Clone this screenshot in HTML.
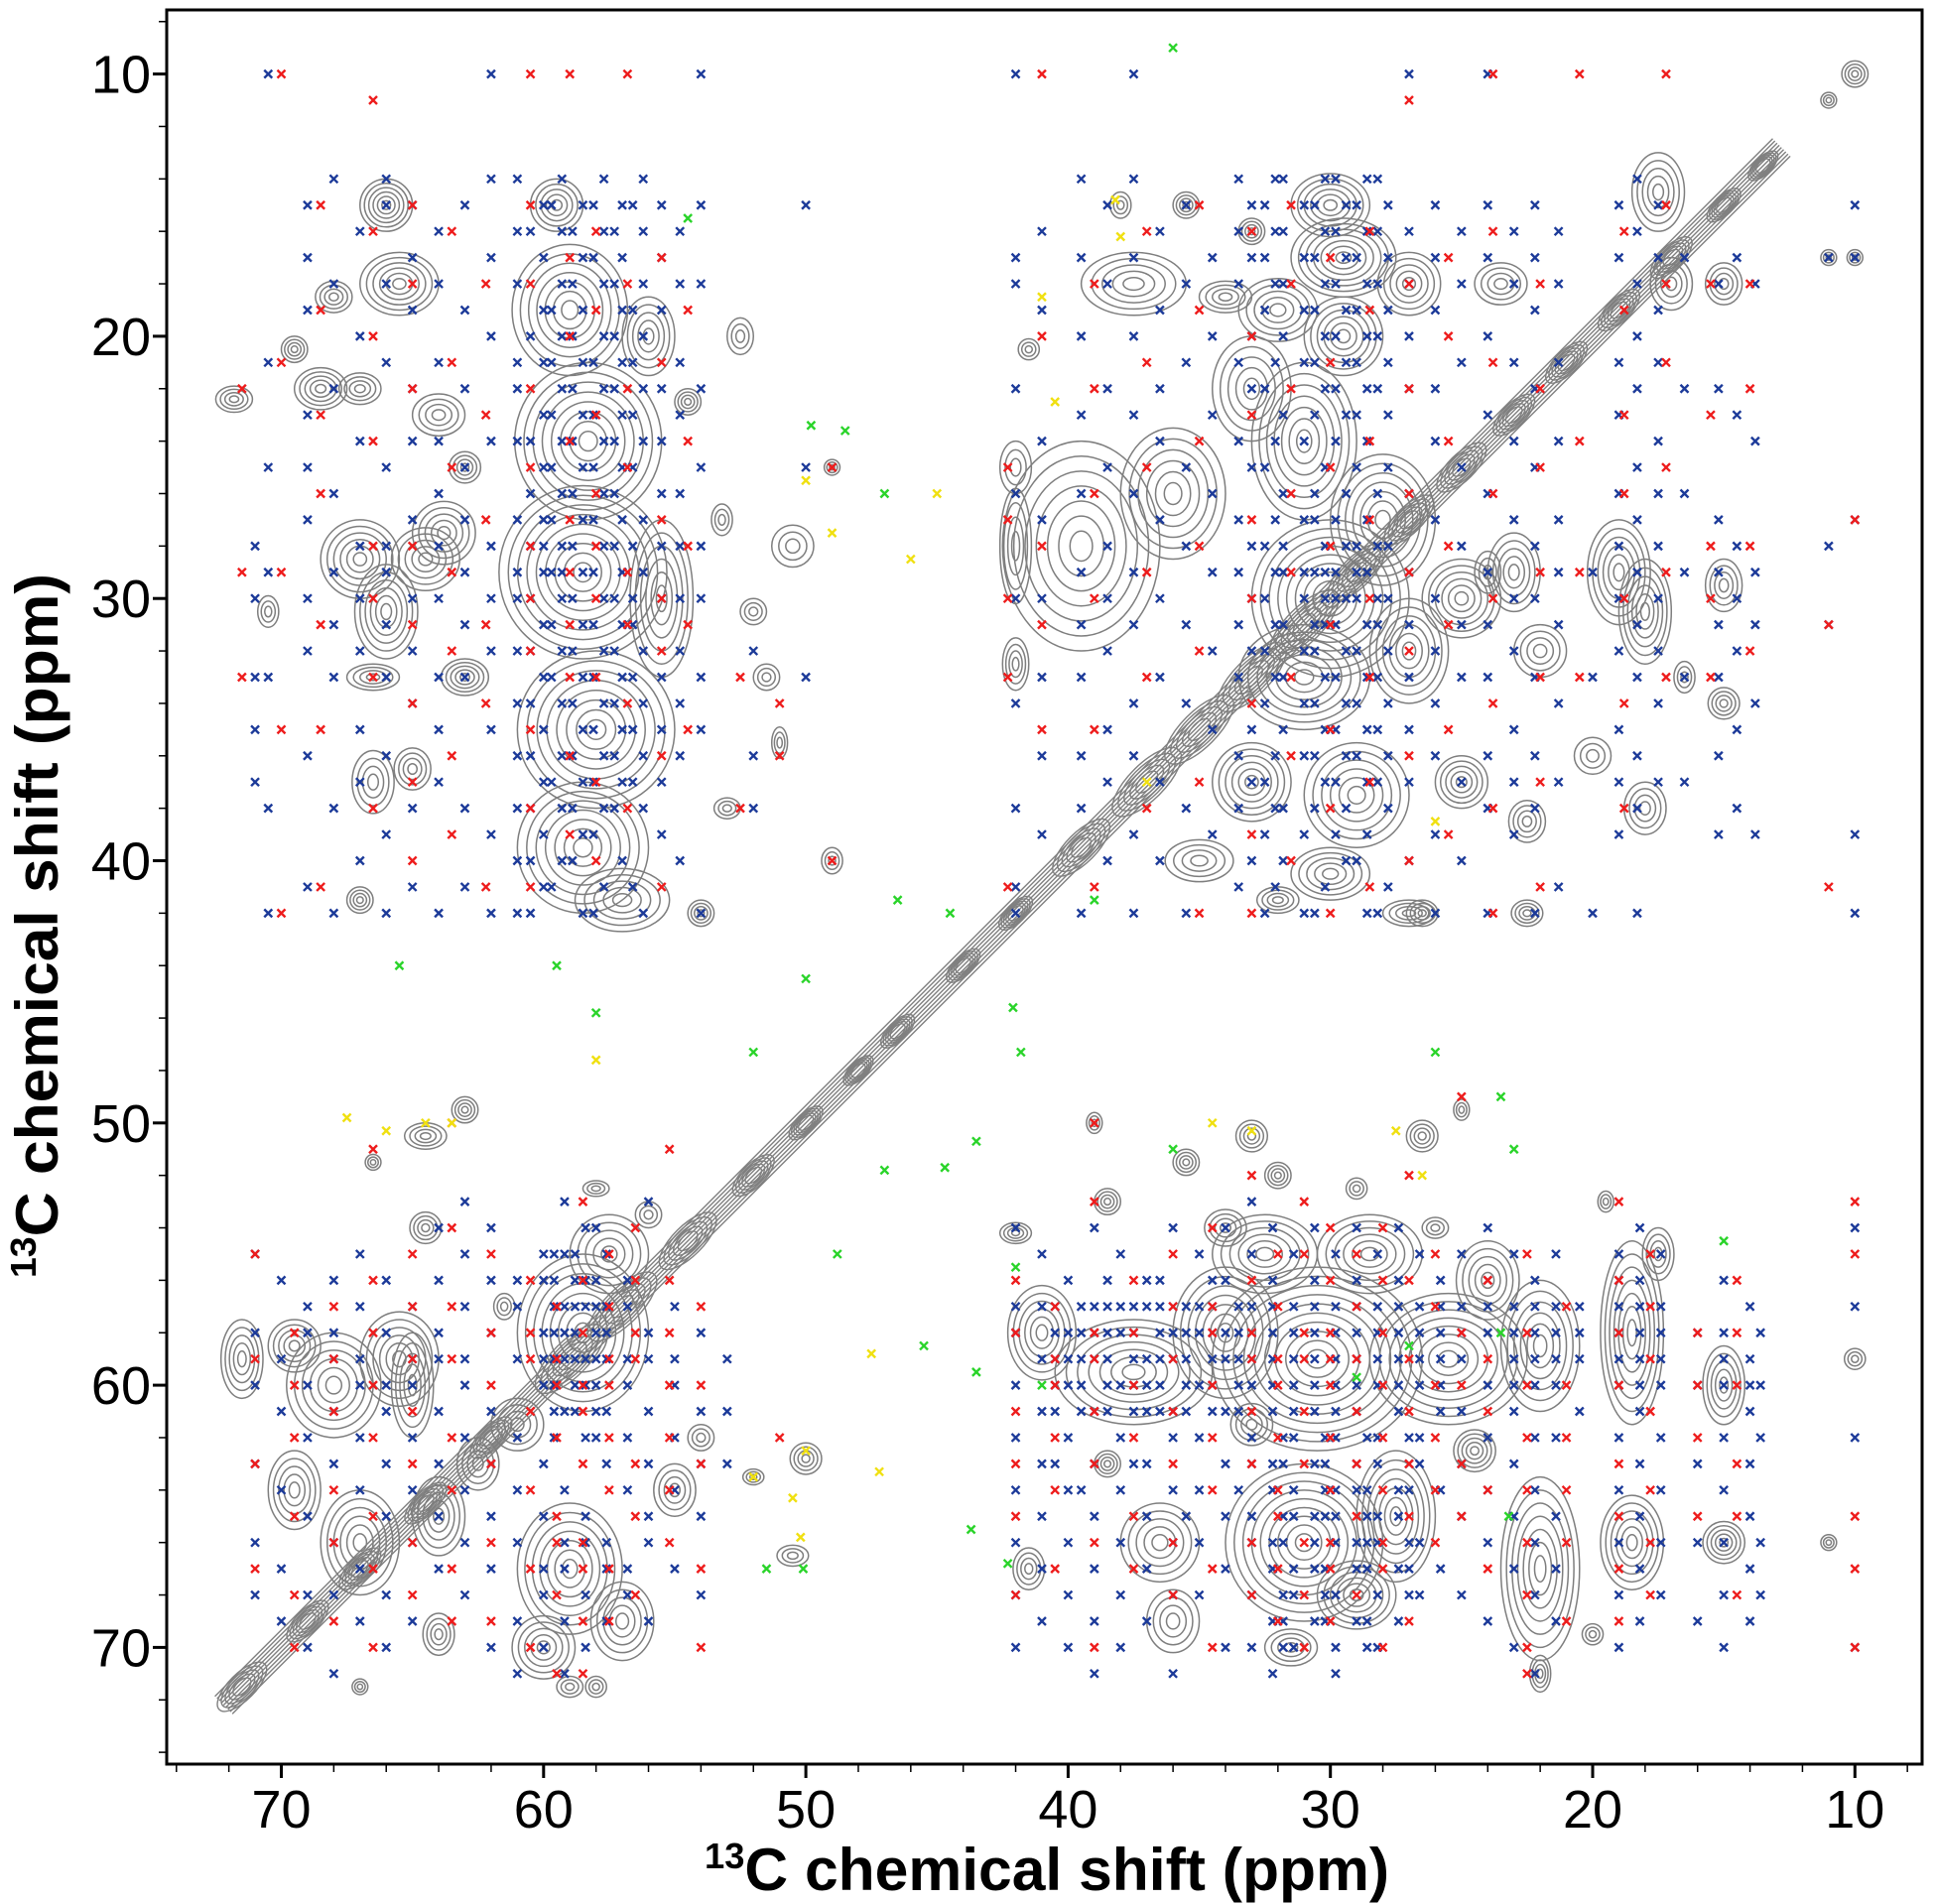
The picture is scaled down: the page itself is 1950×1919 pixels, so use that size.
<!DOCTYPE html>
<html><head><meta charset="utf-8"><style>
html,body{margin:0;padding:0;background:#fff;}
svg{display:block;font-family:"Liberation Sans",sans-serif;}
</style></head><body>
<svg id="chart" width="1950" height="1919" viewBox="0 0 1950 1919" xmlns="http://www.w3.org/2000/svg">
<g id="contours"></g>
<g id="markers"></g>
<g id="axes"></g>
</svg>
<script>
const xTicks=[70,60,50,40,30,20,10];
const yTicks=[10,20,30,40,50,60,70];
const diagX=[71.5,69,67,64.5,62,59,57,54.5,52,50,48,46.5,44,42,39.5,37,35,33,31,29,27,25,23,21,19,17,15,13.5];
const diagW=[1,0.8,0.8,0.8,0.8,1.5,1.5,1.2,0.8,0.6,0.5,0.6,0.6,0.6,1.2,1.5,1.5,1.5,1.5,1.2,1,1,0.8,0.8,0.8,0.8,0.6,0.5];
const blobs=[[71.8,22.4,0.7,0.5,4],[69.5,20.5,0.5,0.5,4],[68.5,22,1,0.8,5],[67,22,0.8,0.6,4],[66,15,1,1,6],[65.5,18,1.5,1.2,6],[68,18.5,0.7,0.6,4],[67,28.5,1.5,1.5,6],[66,30.5,1.2,1.8,6],[64.5,28.5,1.3,1.2,5],[63.8,27.5,1.2,1.2,5],[63,33,0.9,0.7,5],[66.5,33,1,0.5,4],[70.5,30.5,0.4,0.6,3],[66.5,37,0.8,1.2,4],[65,36.5,0.7,0.8,4],[67,41.5,0.5,0.5,4],[64,23,1,0.8,4],[63,25,0.6,0.6,4],
[59,19,2.2,2.5,7],[58.3,24,2.8,3,8],[58.5,29,3.2,3.3,9],[58,35,3,3,8],[58.5,39.5,2.5,2.5,7],[57,41.5,1.8,1.2,5],[55.5,30,1.2,3,6],[56,20,1,1.5,5],[54.5,22.5,0.5,0.5,4],[53.2,27,0.4,0.6,3],[52,30.5,0.5,0.5,3],[51.5,33,0.5,0.5,3],[51,35.5,0.3,0.6,3],[53,38,0.5,0.4,3],[54,42,0.5,0.5,4],[49,25,0.3,0.3,3],[50.5,28,0.8,0.8,3],[49,40,0.4,0.5,3],[52.5,20,0.5,0.7,3],[59.5,15,1,1,5],
[37.5,18,2,1.2,5],[34,18.5,1,0.6,4],[32,19,1.5,1.2,5],[29.5,17,2,1.5,7],[30,15,1.5,1.2,6],[29.5,20,1.5,1.5,6],[27,18,1.2,1.2,5],[23.5,18,1,0.8,4],[17.5,14.5,1,1.5,5],[17,18,0.8,1,4],[15,18,0.7,0.8,4],[11,17,0.3,0.3,3],[10,17,0.3,0.3,3],[10,10,0.5,0.5,4],[11,11,0.3,0.3,3],[35.5,15,0.5,0.5,4],[33,16,0.5,0.5,4],[38,15,0.4,0.5,3],
[39.5,28,3,4,7],[36,26,2,2.5,6],[33,22,1.5,2,5],[31,24,2,3,7],[30,30,3,3,9],[28,27,2,2.5,7],[31,33,2.5,2,7],[27,32,1.5,2,6],[25,30,1.5,1.5,6],[23,29,1,1.5,5],[22,32,1,1,4],[33,37,1.5,1.5,6],[29,37.5,2,2,6],[25,37,1,1,5],[30,40.5,1.5,1,5],[27,42,1,0.5,4],[32,41.5,0.8,0.5,4],[35,40,1.3,0.8,4],[22.5,38.5,0.7,0.8,4],[20,36,0.7,0.7,3],[18,38,0.8,1,4],[19,29,1.2,2,6],[18,30.5,1,2,6],[15,29.5,0.7,1,4],[15,34,0.6,0.6,4],[16.5,33,0.4,0.6,3],[42,28,0.6,2.2,4],[42,32.5,0.5,1,4],[41.5,20.5,0.4,0.4,3],[26.5,42,0.6,0.5,4],[22.5,42,0.6,0.5,4],[24,29,0.5,0.8,3],[42,25,0.6,1,3],
[71.5,59,0.8,1.5,5],[69.5,58.5,1,1,5],[68,60,1.8,2,6],[65.5,59,1.5,1.8,6],[69.5,64,1,1.5,5],[67,66,1.5,2,6],[64,65,1,1.5,5],[62.5,63,0.8,1,4],[58.5,58,2.5,3,8],[57.5,55,1.5,1.5,5],[59,67,2,2.5,7],[60,70,1.2,1.2,5],[57,69,1.2,1.5,5],[59,71.5,0.5,0.4,3],[58,71.5,0.4,0.4,3],[64,69.5,0.6,0.8,4],[67,71.5,0.3,0.3,3],[55,64,0.8,1,4],[54,62,0.5,0.5,3],[63,49.5,0.5,0.5,4],[64.5,50.5,0.8,0.5,4],[66.5,51.5,0.3,0.3,3],[64.5,54,0.6,0.6,4],[61.5,57,0.4,0.5,3],[58,52.5,0.5,0.3,3],[56,53.5,0.5,0.5,3],[50,62.8,0.6,0.6,4],[50.5,66.5,0.6,0.4,3],[52,63.5,0.4,0.3,3],[65,60,0.8,2,5],[61,61.5,1,1,4],
[42,54.2,0.6,0.4,4],[41,58,1.3,1.8,6],[37.5,59.5,3,2,7],[34,58,2,2.5,7],[30.5,59,4,3.5,10],[25.5,59,3,2.5,8],[22,58.5,1.5,2.5,6],[18.5,58,1.2,3.5,7],[15,60,0.8,1.5,5],[32.5,55,2,1.5,6],[28.5,55,2,1.5,6],[24,56,1.2,1.5,5],[31,66,3,3,9],[27.5,65,1.5,2.5,7],[24.5,62.5,0.8,0.8,5],[22,67,1.5,3.5,7],[18.5,66,1.2,1.8,6],[15,66,0.8,0.8,5],[36.5,66,1.5,1.5,5],[41.5,67,0.6,0.8,4],[38.5,63,0.5,0.5,4],[33,61.5,0.8,0.8,4],[29,68,1.5,1.3,6],[31.5,70,1,0.7,4],[36,69,1,1.2,4],[39,50,0.3,0.4,3],[35.5,51.5,0.5,0.5,4],[33,50.5,0.6,0.6,4],[32,52,0.5,0.5,4],[29,52.5,0.4,0.4,3],[26.5,50.5,0.6,0.6,4],[25,49.5,0.3,0.4,3],[38.5,53,0.5,0.5,4],[34,54,0.8,0.7,4],[19.5,53,0.3,0.4,3],[17.5,55,0.6,1,4],[22,71,0.4,0.7,4],[10,59,0.4,0.4,3],[11,66,0.3,0.3,3],[20,69.5,0.4,0.4,3],[26,54,0.5,0.4,3]];
const blueCols=[[71,[28,30,33,35,37]],[70.5,[10,21,25,29,33,38,42]],[69,[15,17,19,23,25,27,30,32,36,41]],[68,[14,18,22,26,29,31,33,38,42]],[67,[16,20,24,28,30,32,35,37,40]],[66,[14,15,18,21,25,28,29,31,33,36,39,42]],[65,[15,17,19,22,24,27,30,32,34,38,41]],[64,[16,18,21,24,26,28,30,33,35,37,42]],[63,[15,19,22,25,27,29,31,33,38,41]],[62,[10,14,17,20,24,28,30,32,35,39,42]],[61,[14,16,18,21,22,24,27,29,30,32,34,36,38,40,42]],[60,[15,17,19,21,23,25,27,28,29,31,33,35,37,39,41]],[59.3,[14,16,18,20,22,24,26,28,29,30,32,34,36,38,40]],[58.5,[15,17,19,21,23,25,27,29,31,33,35,37,39,42]],[57.7,[14,16,18,20,22,24,26,28,30,32,34,36,38,41]],[57,[15,17,19,21,23,25,27,29,31,33,35,37,40]],[56.2,[14,16,18,20,22,24,27,29,32,34,36,38,42]],[55.5,[15,17,19,22,24,26,28,30,33,35,37,39]],[54.8,[16,18,21,23,26,28,30,32,34,36,40]],[54,[10,15,18,22,25,28,30,33,35,42]],[52,[32,36,38]],[50,[15,25,33]],
[42,[10,17,18,22,26,30,34,38,41,42]],[41,[16,19,24,27,30,33,36,39]],[39.5,[14,17,20,23,26,29,31,33,36,38,42]],[38.5,[15,18,22,25,28,30,32,35,37,40]],[37.5,[10,14,17,20,23,26,29,31,34,36,39,42]],[36.5,[16,19,22,24,27,30,33,37,40]],[35.5,[15,18,21,25,28,31,34,38,42]],[34.5,[17,20,23,26,29,32,35,39]],[33.5,[14,16,18,21,24,27,29,31,33,36,38,41]],[32.5,[15,17,19,22,25,28,30,32,34,37,39,42]],[31.8,[14,16,18,20,23,26,28,29,31,33,35,38,40]],[31,[15,17,19,21,24,27,29,30,32,34,36,39,42]],[30.2,[14,16,18,20,22,25,28,29,30,31,33,35,37,41]],[29.4,[15,17,19,21,23,26,28,30,32,34,36,38,40]],[28.6,[14,16,18,20,22,24,27,29,31,33,35,37,39,42]],[27.8,[15,17,19,21,23,25,28,30,32,34,36,38,41]],[27,[10,16,18,20,22,26,29,31,33,35,37,40]],[26,[15,17,19,22,24,27,30,32,34,36,39,42]],[25,[16,18,21,25,28,31,33,37,40]],[24,[10,15,17,20,23,26,29,31,33,36,38,42]],[23,[16,18,21,24,27,30,32,35,37,39]],[22.2,[15,17,19,22,25,28,30,33,36,38,42]],[21.3,[16,18,21,24,27,29,31,34,37,41]],[20,[29,33,42]],[19,[15,17,21,23,26,28,30,32,35,37,39]],[18.3,[14,16,18,20,22,25,27,29,31,33,36,38,42]],[17.5,[15,17,19,21,24,26,28,30,32,34,37]],[16.5,[17,22,26,29,33,37]],[15.2,[18,22,27,29,31,33,36,39]],[14.5,[17,23,28,30,32,35,38]],[13.8,[18,24,29,31,34,39]],[11,[17,28,31]],[10,[15,17,27,39,42]],
[71,[55,58,60,63,66,68]],[70,[56,59,61,64,67,69]],[69,[57,58,60,62,65,68,70]],[68,[56,58,59,61,63,66,68,71]],[67,[55,57,59,60,62,64,67,69]],[66,[56,58,60,61,63,65,68,70]],[65,[57,59,60,62,64,66,69]],[64,[54,56,58,59,61,63,65,67]],[63,[53,55,57,59,60,62,64,66,68]],[62,[54,56,58,61,63,65,67,70]],[61,[56,57,59,62,64,66,69,71]],[60,[55,56,58,59,60,63,65,67,68,70]],[59.2,[53,55,57,58,59,61,64,66,67,69,71]],[58.4,[54,56,57,59,60,62,65,66,68,70]],[57.6,[55,57,58,59,61,63,66,67,69]],[56.8,[56,57,59,60,62,64,67,68]],[56,[53,58,59,61,63,65,66,69]],[55,[57,59,60,62,64,67]],[54,[58,61,63,65,68]],[53,[59,61,63]],
[42,[54,57,58,60,62,64,66,68,70]],[41,[55,57,59,61,63,65,67,69]],[40,[56,58,59,60,62,64,66,68,70]],[39,[54,57,58,59,61,63,65,67,69,71]],[38,[55,57,58,60,62,64,66,68,70]],[37,[56,57,59,60,61,63,65,67,69]],[36,[54,57,58,59,61,62,64,66,68,71]],[35,[55,57,58,60,62,64,66,68]],[34,[54,56,58,59,61,63,65,67,70]],[33,[53,55,57,58,59,60,62,63,65,66,68,70]],[32.2,[54,56,57,58,59,60,61,63,64,66,67,69,71]],[31.4,[55,57,58,59,60,61,62,64,65,67,68,70]],[30.6,[54,56,57,58,59,60,61,63,65,66,67,69]],[29.8,[55,57,58,59,60,61,62,64,65,66,68,70,71]],[29,[54,56,57,58,59,60,61,63,64,66,67,69]],[28.2,[55,57,58,59,60,62,63,65,66,68,70]],[27.4,[54,56,57,58,59,60,61,64,65,67,69]],[26.6,[55,57,58,59,60,62,63,66,68]],[25.8,[56,57,58,59,60,61,64,67]],[25,[55,57,58,59,61,63,65,68]],[24,[54,56,57,58,60,62,64,66,69]],[23,[55,57,58,59,60,61,63,65,67,70]],[22.2,[56,57,58,59,60,62,64,66,68,71]],[21.4,[55,57,58,59,60,62,65,67,69]],[20.5,[57,58,59,61]],[19,[55,56,57,58,59,60,62,64,66,68,70]],[18.2,[54,56,57,58,59,60,61,63,65,67,69]],[17.4,[55,57,58,59,60,62,64,66,68]],[16,[58,60,63,66,69]],[15,[56,58,59,60,62,64,66,68,70]],[14,[57,59,60,61,63,65,67,69]],[13.6,[58,60,62,66,68]],[10,[54,57,62,70]]];
const blueCols2=[[60.5,[16,20,24,26,28,30,32,34,36,38,40,42]],[59.7,[15,19,21,23,25,27,29,31,33,37,41]],[58.9,[16,18,20,22,24,26,28,30,32,34,36,38,40]],[58.1,[15,17,21,23,25,27,29,31,33,35,37,39,42]],[57.3,[16,18,20,22,24,26,28,30,32,34,36,38]],[56.6,[15,19,21,23,25,28,30,31,33,35,37,41]],
[33,[15,17,20,22,25,28,30,32,35,37,40]],[32.1,[14,16,18,21,24,27,29,31,33,36,38,41]],[30.6,[15,17,19,21,23,26,27,29,31,32,34,36,38,42]],[29.8,[14,16,18,20,22,24,27,29,30,31,33,35,37,39]],[29,[15,17,19,21,23,25,28,29,30,32,34,36,40]],[28.2,[14,16,18,20,22,26,28,30,31,33,35,37,42]],
[40.5,[57,58,59,60,61,63]],[39.5,[57,58,59,60,61,64]],[38.5,[56,57,58,59,60,61]],[37.5,[57,58,59,60,61,63]],[36.5,[56,57,58,59,60,61]],[35.5,[57,58,59,60,61,65]],[34.5,[56,57,58,59,60,61]],[33.5,[57,58,59,60,61,64]],
[31.8,[62,63,65,66,68,69,70]],[30.2,[62,63,64,65,67,68,69]],[28.6,[62,64,65,66,67,69,70]],[27,[62,63,64,66,67,68]],
[59.6,[55,56,57,58,59,60,61,62]],[58.8,[55,56,57,58,59,60,61]],[58,[54,56,57,58,59,60,61,62]]];
const redCols=[[71.5,[22,29,33]],[70,[10,21,29,35,42]],[68.5,[15,19,23,26,31,35,41]],[66.5,[11,16,20,24,28,30,33,38]],[65,[15,18,22,28,31,34,37,40]],[63.5,[16,21,25,29,32,36,39]],[62.2,[18,23,27,31,34,41]],[60.5,[10,15,18,22,25,28,30,32,35,38,41]],[59,[10,17,20,24,27,29,31,33,36,39]],[58,[16,19,23,26,28,30,33,37,40]],[56.8,[10,18,22,25,29,31,34,38]],[55.5,[17,21,27,30,32,36,41]],[54.5,[19,24,28,31,35]],[52.5,[33,38]],[51,[34,36]],[49,[25,40]],
[42.3,[25,27,30,33,41]],[41,[10,20,28,31,35]],[39,[18,22,26,30,35,41]],[37,[16,21,25,29,33,38]],[35,[15,19,24,28,32,37,42]],[33,[16,20,23,27,30,34,39,42]],[31.5,[15,18,22,26,29,33,36,40]],[30,[17,21,25,28,31,35,38,42]],[28.5,[16,19,24,27,30,33,37,41]],[27,[11,18,22,26,29,32,36,40]],[25.5,[17,20,24,28,31,35,39]],[23.8,[10,16,21,26,30,34,38,42]],[22,[18,22,25,29,33,37,41]],[20.5,[10,24,29,33]],[18.8,[16,19,23,26,30,34,38]],[17.2,[10,15,18,21,25,29,33]],[15.5,[18,23,28,30,33]],[14,[18,22,28,32]],[10,[27]],[11,[31,41]],
[71,[55,59,63,67]],[69.5,[58,60,62,65,68,70]],[68,[57,59,61,64,66,69]],[66.5,[51,56,58,60,62,65,67,70]],[65,[55,57,59,61,63,66,68]],[63.5,[50,54,57,59,62,64,67,69]],[62,[55,58,60,63,66,69]],[60.5,[56,58,59,61,64,67,70]],[59.5,[57,59,60,62,65,66,68,71]],[58.5,[53,56,58,60,61,63,66,67,69,71]],[57.5,[55,57,59,60,62,64,67,69]],[56.5,[54,56,58,59,63,65,68]],[55.2,[51,56,58,60,62,64,66]],[54,[57,60,63,67,70]],[51,[62]],
[42,[56,58,61,63,65,68]],[40.5,[57,59,60,62,64,67]],[39,[50,53,58,59,61,63,66,70]],[37.5,[56,58,60,62,65,67]],[36,[55,57,59,61,63,66,68]],[34.5,[54,57,58,60,62,64,67,70]],[33,[52,56,58,59,61,63,66,68]],[32,[55,57,59,60,62,64,65,67,69]],[31,[53,55,58,59,61,63,66,68,70]],[30,[54,56,58,59,60,62,64,66,67,69]],[29,[55,57,59,61,63,65,68]],[28,[54,56,58,60,62,64,66,67,70]],[27,[52,56,59,61,63,65,69]],[26,[55,57,60,62,64,66]],[25,[49,58,60,63,65]],[24,[56,59,61,64,67]],[22.5,[55,58,60,62,64,66,68,70,71]],[21,[57,60,62,64,66,69]],[19,[53,56,58,60,63,65,67,69]],[17.8,[55,57,59,61,64,66,68]],[16,[58,60,62,65]],[14.5,[56,58,60,63,65,68]],[10,[53,55,65,67,70]]];
const greenPts=[[36,9],[54.5,15.5],[49.8,23.4],[48.5,23.6],[47,26],[44.5,42],[46.5,41.5],[39,41.5],[65.5,44],[59.5,44],[58,45.8],[52,47.3],[50,44.5],[42.1,45.6],[41.8,47.3],[26,47.3],[43.5,50.7],[44.7,51.7],[47,51.8],[48.8,55],[36,51],[23.5,49],[23,51],[42,55.5],[15,54.5],[45.5,58.5],[43.5,59.5],[29,59.7],[27,58.5],[23.5,58],[41,60],[23.2,65],[43.7,65.5],[42.3,66.8],[51.5,67],[50.1,67]];
const yellowPts=[[38.2,14.8],[38,16.2],[41,18.5],[40.5,22.5],[50,25.5],[49,27.5],[45,26],[46,28.5],[37,37],[26,38.5],[34.5,50],[33,50.3],[27.5,50.3],[26.5,52],[64.5,50],[63.5,50],[67.5,49.8],[66,50.3],[50,62.5],[50.5,64.3],[52,63.5],[50.2,65.8],[47.2,63.3],[47.5,58.8],[58,47.6]];

const NS="http://www.w3.org/2000/svg";
const L=168,R=1937,T=10,B=1778,S=26.43;
const px=v=>283.5+(70-v)*S, py=v=>74.6+(v-10)*S;
function mk(tag,attrs,parent){const e=document.createElementNS(NS,tag);for(const k in attrs)e.setAttribute(k,attrs[k]);parent.appendChild(e);return e;}
const C=document.getElementById('contours'),M=document.getElementById('markers'),A=document.getElementById('axes');

for(let o=-4;o<=4;o++){
  const l=mk('line',{x1:px(72.2)+o*2.2,y1:py(72.2)+o*2.2,x2:px(12.8)+o*2.2,y2:py(12.8)+o*2.2,stroke:'#808080','stroke-width':1.4,fill:'none'},C);
  
  
}
diagX.forEach((d,i)=>{
  const w=diagW[i];
  for(let k=1;k<=5;k++){
    const e=mk('ellipse',{cx:px(d),cy:py(d),rx:w*S*k/5+6,ry:(w*S*k/5)*0.35+4,transform:`rotate(-45 ${px(d)} ${py(d)})`,fill:'none',stroke:'#808080','stroke-width':1.4},C);
    
    
  }
});
blobs.forEach(b=>{
  const [x,y,rx,ry,n]=b;
  for(let k=1;k<=n;k++){
    const e=mk('ellipse',{cx:px(x),cy:py(y),rx:Math.max(2,rx*S*k/n),ry:Math.max(2,ry*S*k/n),fill:'none',stroke:'#7e7e7e','stroke-width':1.5},C);
    
    
  }
});
function cross(x,y,col,name){
  const g=mk('path',{d:`M${px(x)-4},${py(y)-4}L${px(x)+4},${py(y)+4}M${px(x)-4},${py(y)+4}L${px(x)+4},${py(y)-4}`,stroke:col,'stroke-width':2.4,fill:'none'},M);
  
  
}
blueCols.forEach(c=>c[1].forEach(y=>cross(c[0],y,'#1c3a99','blue-assignment-marker')));
blueCols2.forEach(c=>c[1].forEach(y=>cross(c[0],y,'#1c3a99','blue-assignment-marker')));
redCols.forEach(c=>c[1].forEach(y=>cross(c[0],y,'#ee1c1c','red-assignment-marker')));
greenPts.forEach(p=>cross(p[0],p[1],'#2ad42a','green-assignment-marker'));
yellowPts.forEach(p=>cross(p[0],p[1],'#f0e010','yellow-assignment-marker'));

const fr=mk('rect',{x:L,y:T,width:R-L,height:B-T,fill:'none',stroke:'#000','stroke-width':3},A);


for(let v=8;v<=74;v+=2){
  const maj=v%10===0;
  const x=px(v);
  if(x>L&&x<R){const t=mk('line',{x1:x,y1:B,x2:x,y2:B+(maj?14:8),stroke:'#000','stroke-width':maj?3:1.5},A);
    }
  const y=py(v);
  if(y>T&&y<B){const t=mk('line',{x1:L,y1:y,x2:L-(maj?14:8),y2:y,stroke:'#000','stroke-width':maj?3:1.5},A);
    }
}
xTicks.forEach(v=>{const t=mk('text',{x:px(v),y:1842,'font-size':54,'text-anchor':'middle',fill:'#000'},A);t.textContent=v;
  });
yTicks.forEach(v=>{const t=mk('text',{x:152,y:py(v)+19,'font-size':54,'text-anchor':'end',fill:'#000'},A);t.textContent=v;
  });
const xt=mk('text',{x:1055,y:1905,'font-size':60,'font-weight':'bold','text-anchor':'middle',textLength:690,lengthAdjust:'spacingAndGlyphs'},A);
xt.innerHTML='<tspan font-size="36" dy="-22">13</tspan><tspan dy="22">C chemical shift (ppm)</tspan>';

const yt=mk('text',{x:0,y:0,'font-size':60,'font-weight':'bold','text-anchor':'middle',textLength:710,lengthAdjust:'spacingAndGlyphs',transform:'translate(58 933) rotate(-90)'},A);
yt.innerHTML='<tspan font-size="36" dy="-22">13</tspan><tspan dy="22">C chemical shift (ppm)</tspan>';

</script>
</body></html>
